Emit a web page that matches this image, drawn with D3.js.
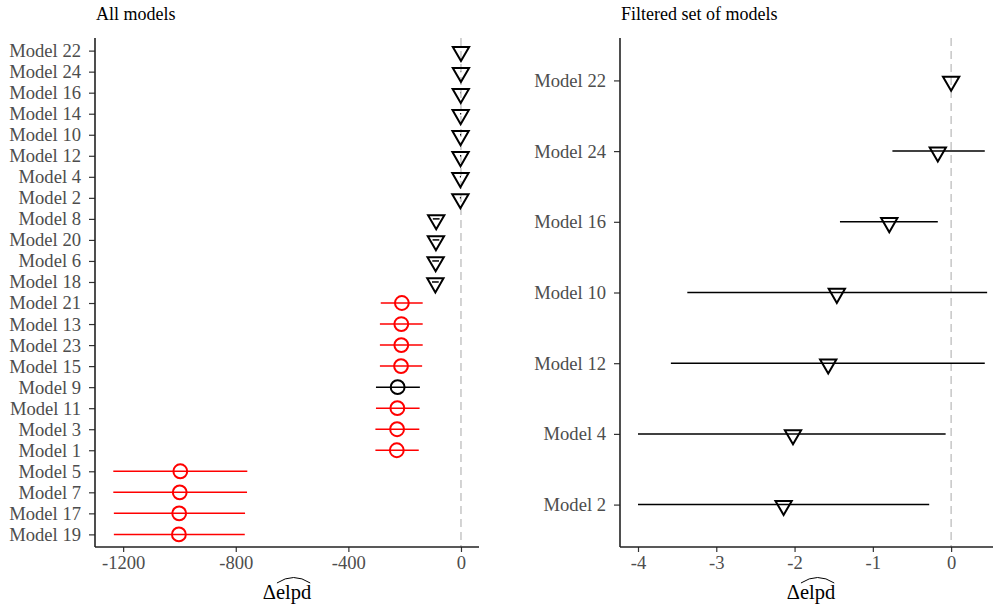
<!DOCTYPE html>
<html lang="en">
<head>
<meta charset="UTF-8"/>
<title>elpd comparison</title>
<script src="https://d3js.org/d3.v7.min.js"></script>
<style>
    body { margin: 0; background: #fff; }
    text { font-family: "Liberation Serif", "DejaVu Serif", serif; }
</style>
</head>
<body>
<script>
    // all models, sorted by elpd difference (top to bottom)
    var allModels = ["Model 22", "Model 24", "Model 16", "Model 14", "Model 10", "Model 12", "Model 4", "Model 2",
        "Model 8", "Model 20", "Model 6", "Model 18", "Model 21", "Model 13", "Model 23", "Model 15",
        "Model 9", "Model 11", "Model 3", "Model 1", "Model 5", "Model 7", "Model 17", "Model 19"];
    var allDiff = [0, -0.17, -0.79, -1.1, -1.46, -1.57, -2.02, -2.14,
        -88, -89, -90, -91, -210, -212, -212, -213,
        -225, -226, -227, -228, -997, -999, -1001, -1002];
    var allLower = [0, -0.75, -1.42, -3, -3.37, -3.58, -4.0, -4.0,
        -100, -101, -102, -103, -285, -288, -288, -288,
        -302, -302, -304, -304, -1235, -1235, -1233, -1233];
    var allUpper = [0, 0.43, -0.17, 0.8, 0.46, 0.43, -0.07, -0.28,
        -76, -77, -78, -79, -136, -136, -136, -138,
        -146, -147, -148, -150, -759, -760, -767, -768];
    // models flagged (drawn in red)
    var flagged = ["Model 21", "Model 13", "Model 23", "Model 15", "Model 11", "Model 3", "Model 1",
        "Model 5", "Model 7", "Model 17", "Model 19"];

    // filtered set
    var subModels = ["Model 22", "Model 24", "Model 16", "Model 10", "Model 12", "Model 4", "Model 2"];
    var subDiff = [0, -0.17, -0.79, -1.46, -1.57, -2.02, -2.14];
    var subLower = [0, -0.75, -1.42, -3.37, -3.58, -4.0, -4.0];
    var subUpper = [0, 0.43, -0.17, 0.46, 0.43, -0.07, -0.28];

    var leftTicks = [-1200, -800, -400, 0];
    var rightTicks = [-4, -3, -2, -1, 0];

    var w = 993, h = 605;
    var plotTop = 38, plotBottom = 547;

    var svg = d3.select("body").append("svg")
        .attr("width", w)
        .attr("height", h);

    function rows(models, diff, lower, upper) {
        return models.map(function (m, i) {
            var num = +m.split(" ")[1];
            return {model: m, diff: diff[i], lower: lower[i], upper: upper[i],
                tri: num % 2 === 0, red: flagged.indexOf(m) >= 0};
        });
    }

    function panel(data, x0, x1, domain, ticks, title) {
        var xScale = d3.scaleLinear().domain(domain).range([x0, x1]);
        var yScale = d3.scalePoint()
            .domain(data.map(function (d) { return d.model; }))
            .range([plotTop, plotBottom])
            .padding(0.6);

        var g = svg.append("g");

        // reference line at zero
        g.append("line")
            .attr("x1", xScale(0)).attr("x2", xScale(0))
            .attr("y1", plotTop).attr("y2", plotBottom)
            .attr("stroke", "#bdbdbd")
            .attr("stroke-width", 1.3)
            .attr("stroke-dasharray", "8,5");

        // error bars
        g.selectAll(".err")
            .data(data)
            .enter()
            .append("line")
            .attr("x1", function (d) { return xScale(d.lower); })
            .attr("x2", function (d) { return xScale(d.upper); })
            .attr("y1", function (d) { return yScale(d.model); })
            .attr("y2", function (d) { return yScale(d.model); })
            .attr("stroke", function (d) { return d.red ? "#ff0000" : "#000"; })
            .attr("stroke-width", 1.5);

        // points
        var tri = d3.symbol().type(d3.symbolTriangle).size(115);
        var circ = d3.symbol().type(d3.symbolCircle).size(150);
        g.selectAll(".pt")
            .data(data)
            .enter()
            .append("path")
            .attr("d", function (d) { return d.tri ? tri() : circ(); })
            .attr("transform", function (d) {
                return "translate(" + xScale(d.diff) + "," + (yScale(d.model) + (d.tri ? 1 : 0)) + ")" + (d.tri ? " rotate(180)" : "");
            })
            .attr("fill", "none")
            .attr("stroke", function (d) { return d.red ? "#ff0000" : "#000"; })
            .attr("stroke-width", 2);

        // axes
        var xAxis = d3.axisBottom(xScale).tickValues(ticks).tickSize(5).tickPadding(4)
            .tickFormat(d3.format("d"));
        var gx = svg.append("g")
            .attr("transform", "translate(0," + plotBottom + ")")
            .call(xAxis);
        var yAxis = d3.axisLeft(yScale).tickSize(6).tickPadding(8);
        var gy = svg.append("g")
            .attr("transform", "translate(" + x0 + ",0)")
            .call(yAxis);

        [gx, gy].forEach(function (a) {
            a.attr("font-family", null).attr("font-size", null);
            a.select(".domain").remove();
            a.selectAll(".tick line").attr("stroke", "#333").attr("stroke-width", 1.2);
            a.selectAll(".tick text")
                .attr("fill", "#4d4d4d")
                .style("font-size", "18.6px");
        });
        gx.selectAll(".tick text").text(function (d) { return String(d); });

        // axis lines
        svg.append("line")
            .attr("x1", x0).attr("x2", x0).attr("y1", plotTop).attr("y2", plotBottom)
            .attr("stroke", "#222").attr("stroke-width", 1.6);
        svg.append("line")
            .attr("x1", x0).attr("x2", x1).attr("y1", plotBottom).attr("y2", plotBottom)
            .attr("stroke", "#222").attr("stroke-width", 1.6);

        // title
        svg.append("text")
            .attr("x", x0 + 1)
            .attr("y", 20)
            .style("font-size", "18px")
            .attr("fill", "#000")
            .text(title);

        // x label: Delta elpd with wide hat
        var cx = (x0 + x1) / 2;
        var lab = svg.append("g");
        var delta = lab.append("text").attr("y", 599).style("font-size", "20.5px").text("Δ");
        var elpd = lab.append("text").attr("y", 599).style("font-size", "20.5px").text("elpd");
        var dw = delta.node().getComputedTextLength();
        var ew = elpd.node().getComputedTextLength();
        var start = cx - (dw + ew) / 2;
        delta.attr("x", start);
        elpd.attr("x", start + dw);
        var hx0 = start + dw + 1, hx1 = start + dw + ew - 1;
        lab.append("path")
            .attr("d", "M" + hx0 + ",583 Q" + ((hx0 + hx1) / 2) + ",572 " + hx1 + ",583")
            .attr("fill", "none")
            .attr("stroke", "#000")
            .attr("stroke-width", 1);
    }

    panel(rows(allModels, allDiff, allLower, allUpper), 95, 479, [-1300, 64], leftTicks, "All models");
    panel(rows(subModels, subDiff, subLower, subUpper), 620, 1002, [-4.23, 0.65], rightTicks, "Filtered set of models");
</script>
</body>
</html>
